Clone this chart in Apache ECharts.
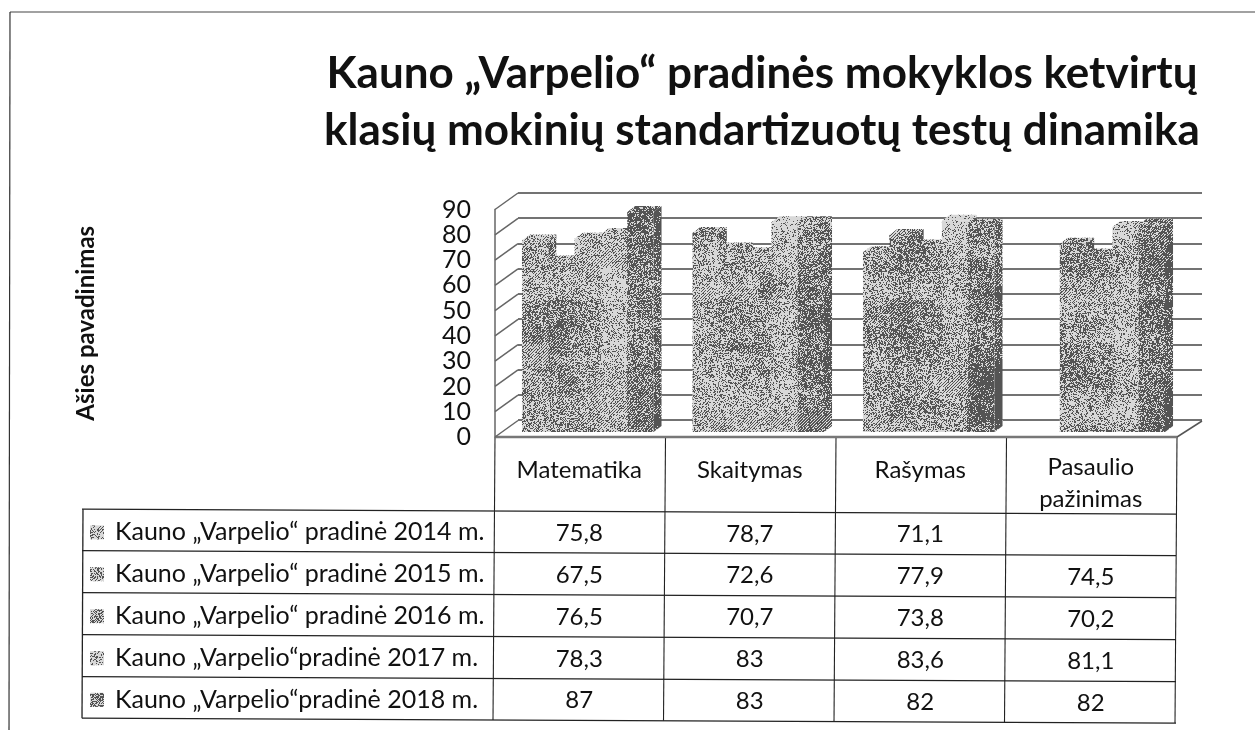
<!DOCTYPE html>
<html>
<head>
<meta charset="utf-8">
<style>
  html, body { margin: 0; padding: 0; background: #fff; }
  #chart { width: 1255px; height: 730px; }
</style>
<script src="https://cdn.jsdelivr.net/npm/echarts@6/dist/echarts.min.js"></script>
</head>
<body>
<div id="chart"></div>
<script>
const categories = ["Matematika", "Skaitymas", "Rašymas", "Pasaulio\npažinimas"];
const seriesNames = [
  "Kauno „Varpelio“ pradinė 2014 m.",
  "Kauno „Varpelio“ pradinė 2015 m.",
  "Kauno „Varpelio“ pradinė 2016 m.",
  "Kauno „Varpelio“pradinė 2017 m.",
  "Kauno „Varpelio“pradinė 2018 m.",
];
const values2014 = [75.8, 78.7, 71.1, null];
const values2015 = [67.5, 72.6, 77.9, 74.5];
const values2016 = [76.5, 70.7, 73.8, 70.2];
const values2017 = [78.3, 83, 83.6, 81.1];
const values2018 = [87, 83, 82, 82];
const allValues = [values2014, values2015, values2016, values2017, values2018];
const yTicks = [0, 10, 20, 30, 40, 50, 60, 70, 80, 90];
const grays = [0.55, 0.5, 0.55, 0.68, 0.36];

const FONT = "Lato, 'Noto Sans', sans-serif";
const COLS = [495, 665.5, 836, 1006.5, 1177];
const ROWS = [511, 552.5, 594.5, 636.5, 678.5, 720];
const SLOPE = 0.0045; // the scan is a little rotated
const rowY = (r, x) => ROWS[r] + (x - 495) * SLOPE;

// scanned halftone look, seeded so each run gives the same picture
const TW = 760, TH = 300;
function hash(x, y) {
  let h = Math.imul(x + 1, 0x9e3779b1) ^ Math.imul(y + 1, 0x85ebca77);
  h = Math.imul(h ^ (h >>> 15), 0xc2b2ae3d);
  h = Math.imul(h ^ (h >>> 13), 0x27d4eb2f);
  return ((h ^ (h >>> 16)) >>> 0) / 4294967296;
}
function smooth(x, y, cell) {
  const gx = Math.floor(x / cell), gy = Math.floor(y / cell);
  let fx = x / cell - gx, fy = y / cell - gy;
  fx = fx * fx * (3 - 2 * fx);
  fy = fy * fy * (3 - 2 * fy);
  const a = hash(gx, gy), b = hash(gx + 1, gy), c = hash(gx, gy + 1), d = hash(gx + 1, gy + 1);
  return a * (1 - fx) * (1 - fy) + b * fx * (1 - fy) + c * (1 - fx) * fy + d * fx * fy;
}
function makeTexture(gray) {
  const cv = document.createElement("canvas");
  cv.width = TW;
  cv.height = TH;
  const ctx = cv.getContext("2d");
  const img = ctx.createImageData(TW, TH);
  for (let y = 0; y < TH; y++) {
    for (let x = 0; x < TW; x++) {
      const blotch = smooth(x, y * 2.2, 80) - 0.5 + (smooth(x + 300, y * 3, 35) - 0.5) * 0.5;
      const level = gray + blotch * 0.4;
      // fine diagonal screen fades in and out of the noise
      const hatchMix = Math.max(0, (smooth(x + 90, y * 2 + 40, 70) - 0.45) * 1.6);
      const threshold = hash(x + 503, y + 91) < hatchMix ? ((x + y) % 3) / 3 + 0.15 : hash(x + 11, y + 7);
      const v = threshold < level ? 216 : 84;
      const i = (y * TW + x) * 4;
      img.data[i] = img.data[i + 1] = img.data[i + 2] = v;
      img.data[i + 3] = 255;
    }
  }
  ctx.putImageData(img, 0, 0);
  return { image: cv, repeat: "repeat" };
}
const frontFills = grays.map((g) => makeTexture(g));
const sideFills = grays.map((g) => makeTexture(g * 0.55));

function barSeries(name, idx) {
  return {
    name: name,
    type: "custom",
    xAxisIndex: 0,
    yAxisIndex: 0,
    z: 5 + idx,
    clip: false,
    data: allValues[idx].map((v, c) => [c, v]),
    renderItem: function (params, api) {
      if (api.value(1) === null || isNaN(api.value(1))) return null;
      const top = api.coord([api.value(0), api.value(1)]);
      const base = api.coord([api.value(0), 0]);
      const w = api.size([1, 0])[0] * 0.1543;
      const x = top[0] + 7.5 + (idx - 2.5) * w;
      const y = top[1] - 5;
      const b = base[1] - 5;
      const dx = 8, dy = 6;
      return {
        type: "group",
        children: [
          { type: "polygon", shape: { points: [[x + w, y], [x + w + dx, y - dy], [x + w + dx, b - dy], [x + w, b]] }, style: { fill: sideFills[idx] } },
          { type: "polygon", shape: { points: [[x, y], [x + dx, y - dy], [x + w + dx, y - dy], [x + w, y]] }, style: { fill: frontFills[idx] } },
          { type: "rect", shape: { x: x, y: y, width: w, height: b - y }, style: { fill: frontFills[idx] } },
        ],
      };
    },
  };
}

// left wall diagonals, one per tick
const wallSeries = {
  type: "custom",
  xAxisIndex: 0,
  yAxisIndex: 0,
  z: 2,
  clip: false,
  silent: true,
  data: yTicks.map((t) => [0, t]),
  renderItem: function (params, api) {
    const p = api.coord([0, api.value(1)]);
    return {
      type: "line",
      shape: { x1: params.coordSys.x, y1: p[1], x2: params.coordSys.x + 23, y2: p[1] - 16.5 },
      style: { stroke: "#666", lineWidth: 1.5 },
    };
  },
};

function line(x1, y1, x2, y2, w, c) {
  return { type: "line", silent: true, shape: { x1, y1, x2, y2 }, style: { stroke: c || "#222", lineWidth: w || 1 } };
}
function label(text, x, y, align, size) {
  return {
    type: "text",
    silent: true,
    x: x,
    y: y,
    style: { text: text, fill: "#111", font: (size || 24) + "px " + FONT, align: align || "center", verticalAlign: "middle", lineHeight: 32 },
  };
}

const tableItems = [];
// frame of the scan
tableItems.push(line(10, 12, 1255, 12, 1.2, "#444"), line(10, 12, 9, 730, 1.2, "#333"));
// grid lines
COLS.forEach((x) => tableItems.push(line(x, 437, x - 2, rowY(5, x), 1.1)));
ROWS.forEach((y, r) => tableItems.push(line(82, rowY(r, 82), 1176, rowY(r, 1176), 1.3)));
tableItems.push(line(83, rowY(0, 82), 82, rowY(5, 82), 1.3));
// floor
tableItems.push(line(495, 437, 1177, 437, 2.5, "#777"), line(1177, 437, 1202, 421, 1.5, "#555"));
// headers and cells
categories.forEach((c, i) => {
  const cx = (COLS[i] + COLS[i + 1]) / 2 - 1;
  tableItems.push(label(c, cx, i === 3 ? 483 : 470));
  allValues.forEach((vals, r) => {
    if (vals[i] === null) return;
    tableItems.push(label(String(vals[i]).replace(".", ","), cx, (rowY(r, cx) + rowY(r + 1, cx)) / 2 + 1));
  });
});
seriesNames.forEach((n, r) => {
  const my = (rowY(r, 200) + rowY(r + 1, 200)) / 2 + 2;
  tableItems.push({ type: "rect", silent: true, shape: { x: 90, y: my - 7, width: 14, height: 14 }, style: { fill: frontFills[r] } });
  tableItems.push(label(n, 115, my, "left", 25));
});

const myChart = echarts.init(document.getElementById("chart"), null, { renderer: "canvas" });
myChart.setOption({
  backgroundColor: "#fff",
  animation: false,
  title: {
    text: "Kauno „Varpelio“ pradinės mokyklos ketvirtų\nklasių mokinių standartizuotų testų dinamika",
    left: 757,
    top: 40,
    textAlign: "center",
    textStyle: { fontFamily: FONT, fontWeight: "bold", fontSize: 44, lineHeight: 57, color: "#111" },
  },
  grid: [
    { left: 495, top: 209.5, width: 682, height: 227.5 },
    { left: 518, top: 193, width: 684, height: 227 },
  ],
  xAxis: [
    { type: "category", gridIndex: 0, data: categories, axisLine: { show: false }, axisTick: { show: false }, axisLabel: { show: false } },
    { type: "category", gridIndex: 1, data: categories, axisLine: { show: false }, axisTick: { show: false }, axisLabel: { show: false } },
  ],
  yAxis: [
    {
      type: "value",
      gridIndex: 0,
      min: 0,
      max: 90,
      interval: 10,
      name: "Ašies pavadinimas",
      nameLocation: "middle",
      nameRotate: 90,
      nameGap: 397,
      nameTextStyle: { fontFamily: FONT, fontWeight: "bold", fontSize: 24, color: "#111" },
      axisLine: { show: true, lineStyle: { color: "#666", width: 1.5 } },
      axisTick: { show: false },
      splitLine: { show: false },
      axisLabel: { fontFamily: FONT, fontSize: 25, color: "#111", margin: 24 },
    },
    {
      type: "value",
      gridIndex: 1,
      min: 0,
      max: 90,
      interval: 10,
      axisLine: { show: false },
      axisTick: { show: false },
      axisLabel: { show: false },
      splitLine: { show: true, lineStyle: { color: "#444", width: 1.6 } },
    },
  ],
  series: [wallSeries].concat(seriesNames.map(barSeries)),
  graphic: { elements: tableItems },
});
</script>
</body>
</html>
